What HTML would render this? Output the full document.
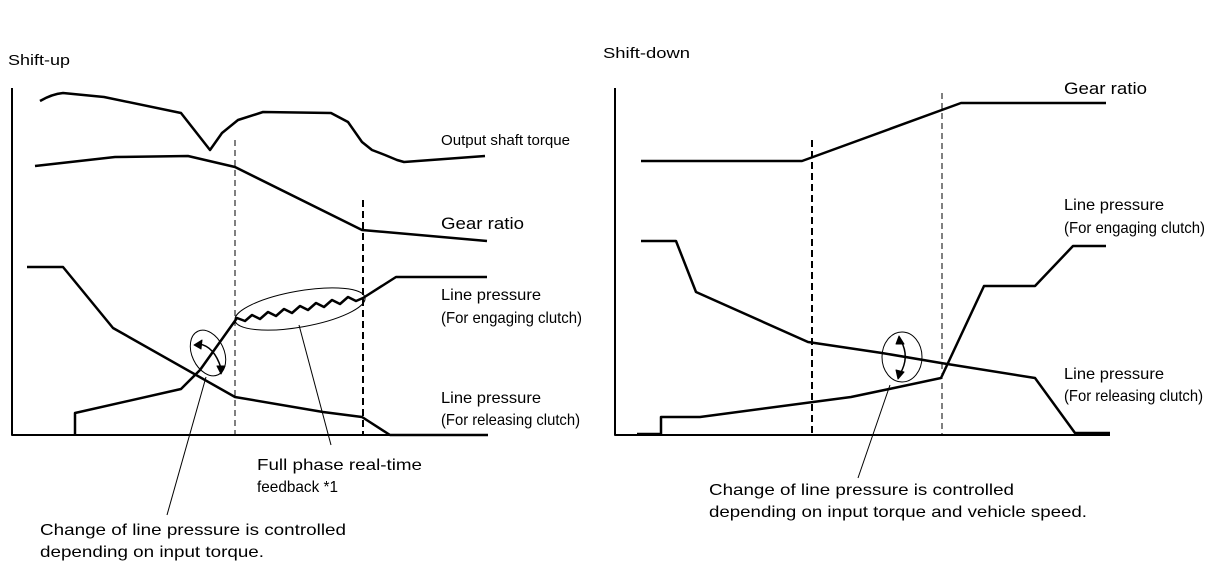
<!DOCTYPE html>
<html><head><meta charset="utf-8"><style>
html,body{margin:0;padding:0;background:#fff;}
svg{display:block;}
text{font-family:"Liberation Sans",sans-serif;fill:#000;}
</style></head><body>
<svg width="1216" height="582" viewBox="0 0 1216 582" xmlns="http://www.w3.org/2000/svg">
<g fill="none" stroke="#000" stroke-linejoin="round">
<!-- LEFT -->
<path d="M12 88 V435 H424" stroke-width="2"/>
<path d="M40 101 Q52 94 63 93 L104 97 L181 113 L210 150 L222 133 L238 120 L263 112 L331 113 L348 122 L362 142 L372 150 L385 155 L397 160 L404 162 L485 156" stroke-width="2.5"/>
<path d="M35 166 L115 157 L188 156 L235 167 L362 230 L487 241" stroke-width="2.5"/>
<path d="M235 140 V435" stroke="#000" stroke-width="1" stroke-dasharray="6,4"/>
<path d="M363 200 V435" stroke-width="2" stroke-dasharray="7,4"/>
<path d="M27 267 L63 267 L113 328 L235 397 L323 412 L362 417 L390 435 L488 435" stroke-width="2.5"/>
<path d="M75 435 L75 413 L181 389 L200 370 L237 318 L245 321 L252 315 L260 319 L268 312 L276 316 L284 309 L292 313 L300 306 L308 310 L316 303 L324 307 L332 300 L340 304 L348 297 L356 301 L363 298 L396 277 L487 277" stroke-width="2.5"/>
<ellipse cx="300" cy="309" rx="66" ry="18" transform="rotate(-10 300 309)" stroke-width="1"/>
<ellipse cx="208" cy="353" rx="16" ry="24" transform="rotate(-25 208 353)" stroke-width="1"/>
<path d="M199 344 Q214 346 221 368" stroke-width="1.5"/>
<path d="M194 345 L202 340 L201 349 Z M221 374 L217 366 L225 366 Z" fill="#000" stroke-width="1"/>
<path d="M206 377 L167 515" stroke-width="1"/>
<path d="M299 325 L331 445" stroke-width="1"/>
<!-- RIGHT -->
<path d="M615 88 V435 H1110" stroke-width="2"/>
<path d="M641 161 L802 161 L961 103 L1106 103" stroke-width="2.5"/>
<path d="M812 140 V435" stroke-width="2" stroke-dasharray="7,4"/>
<path d="M942 93 V435" stroke="#000" stroke-width="1" stroke-dasharray="6,4"/>
<path d="M641 241 L676 241 L696 292 L808 342 L882 353 L941 363 L1035 378 L1075 433 L1110 433" stroke-width="2.5"/>
<path d="M637 434 L661 434 L661 417 L700 417 L851 397 L894 388 L941 378 L984 286 L1035 286 L1073 246 L1106 246" stroke-width="2.5"/>
<ellipse cx="902" cy="357" rx="20" ry="25" stroke-width="1"/>
<path d="M901 341 Q910 357 900 374" stroke-width="1.5"/>
<path d="M899 336 L904 344 L896 344 Z M898 379 L896 370 L904 372 Z" fill="#000" stroke-width="1"/>
<path d="M890 385 L858 478" stroke-width="1"/>
</g>
<text x="8" y="65" font-size="15" textLength="62" lengthAdjust="spacingAndGlyphs">Shift-up</text>
<text x="603" y="58" font-size="15" textLength="87" lengthAdjust="spacingAndGlyphs">Shift-down</text>
<text x="441" y="145" font-size="15" textLength="129" lengthAdjust="spacingAndGlyphs">Output shaft torque</text>
<text x="441" y="229" font-size="17" textLength="83" lengthAdjust="spacingAndGlyphs">Gear ratio</text>
<text x="441" y="300" font-size="16" textLength="100" lengthAdjust="spacingAndGlyphs">Line pressure</text>
<text x="441" y="323" font-size="16" textLength="141" lengthAdjust="spacingAndGlyphs">(For engaging clutch)</text>
<text x="441" y="403" font-size="16" textLength="100" lengthAdjust="spacingAndGlyphs">Line pressure</text>
<text x="441" y="425" font-size="16" textLength="139" lengthAdjust="spacingAndGlyphs">(For releasing clutch)</text>
<text x="1064" y="94" font-size="17" textLength="83" lengthAdjust="spacingAndGlyphs">Gear ratio</text>
<text x="1064" y="210" font-size="16" textLength="100" lengthAdjust="spacingAndGlyphs">Line pressure</text>
<text x="1064" y="233" font-size="16" textLength="141" lengthAdjust="spacingAndGlyphs">(For engaging clutch)</text>
<text x="1064" y="379" font-size="16" textLength="100" lengthAdjust="spacingAndGlyphs">Line pressure</text>
<text x="1064" y="401" font-size="16" textLength="139" lengthAdjust="spacingAndGlyphs">(For releasing clutch)</text>
<text x="257" y="470" font-size="16" textLength="165" lengthAdjust="spacingAndGlyphs">Full phase real-time</text>
<text x="257" y="492" font-size="16" textLength="81" lengthAdjust="spacingAndGlyphs">feedback *1</text>
<text x="40" y="535" font-size="16" textLength="306" lengthAdjust="spacingAndGlyphs">Change of line pressure is controlled</text>
<text x="40" y="557" font-size="16" textLength="224" lengthAdjust="spacingAndGlyphs">depending on input torque.</text>
<text x="709" y="495" font-size="16" textLength="305" lengthAdjust="spacingAndGlyphs">Change of line pressure is controlled</text>
<text x="709" y="517" font-size="16" textLength="378" lengthAdjust="spacingAndGlyphs">depending on input torque and vehicle speed.</text>
</svg>
</body></html>
